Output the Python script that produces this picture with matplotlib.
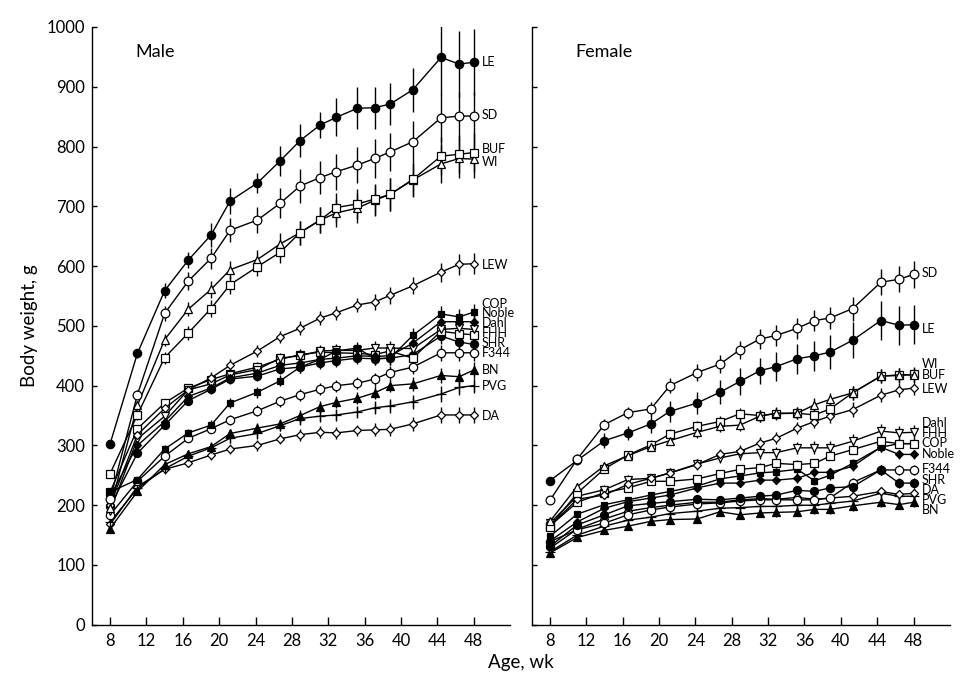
import matplotlib
matplotlib.use("Agg")
import matplotlib.pyplot as plt

plt.rcParams['font.family'] = ['Lato', 'DejaVu Sans']

# ages at which the rats were weighed (wk)
weeks = [8, 11, 14, 16.6, 19.1, 21.2, 24.2, 26.7, 28.9, 31.1, 32.9, 35.2, 37.1, 38.8, 41.3, 44.4, 46.4, 48]
x_ticks = [8, 12, 16, 20, 24, 28, 32, 36, 40, 44, 48]
y_ticks = [0, 100, 200, 300, 400, 500, 600, 700, 800, 900, 1000]

# ---- male body weight (g) ----
m_LE = [303, 454, 559, 610, 652, 709, 739, 776, 810, 836, 849, 864, 865, 871, 895, 949, 938, 941]
m_SD = [210, 385, 521, 575, 613, 660, 677, 705, 734, 748, 758, 769, 780, 791, 808, 848, 851, 851]
m_BUF = [253, 351, 447, 488, 529, 569, 599, 623, 656, 677, 698, 704, 712, 720, 745, 784, 787, 790]
m_WI = [195, 367, 477, 528, 561, 594, 611, 637, 656, 677, 689, 697, 710, 720, 744, 771, 780, 779]
m_LEW = [200, 318, 362, 393, 413, 434, 458, 482, 496, 513, 522, 535, 540, 551, 567, 590, 603, 604]
m_COP = [222, 243, 294, 321, 334, 371, 389, 408, 431, 444, 458, 463, 445, 446, 484, 520, 515, 523]
m_Noble = [215, 300, 340, 382, 396, 413, 421, 434, 438, 444, 446, 450, 449, 450, 471, 507, 507, 507]
m_Dahl = [190, 311, 349, 393, 403, 418, 427, 446, 450, 458, 459, 459, 463, 463, 462, 494, 496, 494]
m_FHH = [222, 328, 371, 396, 410, 420, 431, 444, 452, 456, 455, 454, 452, 458, 446, 491, 487, 485]
m_SHR = [198, 287, 334, 375, 394, 411, 416, 428, 431, 438, 442, 446, 445, 446, 452, 483, 473, 469]
m_F344 = [184, 240, 282, 312, 328, 343, 358, 374, 385, 394, 400, 404, 411, 422, 431, 455, 455, 455]
m_BN = [161, 223, 268, 286, 298, 320, 329, 336, 350, 365, 372, 379, 388, 400, 403, 417, 415, 426]
m_PVG = [172, 228, 261, 282, 296, 312, 320, 333, 345, 349, 351, 356, 363, 366, 373, 386, 397, 400]
m_DA = [168, 231, 260, 271, 284, 294, 300, 311, 318, 322, 321, 325, 326, 327, 336, 351, 351, 351]

# male SD (g)
m_LE_sd = [5, 8, 13, 14, 20, 22, 17, 25, 28, 22, 32, 35, 35, 35, 37, 62, 55, 55]
m_SD_sd = [5, 8, 12, 15, 18, 20, 22, 25, 28, 28, 30, 30, 32, 32, 35, 40, 40, 40]
m_big_sd = [5, 8, 10, 12, 14, 15, 16, 18, 20, 22, 24, 25, 26, 27, 28, 32, 32, 32]
m_mid_sd = [4, 6, 8, 8, 10, 10, 10, 10, 12, 12, 12, 12, 14, 14, 14, 16, 18, 18]
m_small_sd = [3, 5, 6, 7, 8, 8, 9, 9, 10, 10, 10, 10, 11, 11, 12, 13, 13, 13]

# ---- female body weight (g) ----
f_SD = [208, 277, 335, 355, 361, 400, 422, 436, 460, 478, 484, 496, 509, 513, 529, 573, 578, 586]
f_LE = [241, 275, 308, 321, 336, 357, 371, 389, 407, 425, 432, 445, 450, 456, 476, 509, 501, 502]
f_WI = [173, 231, 266, 283, 298, 308, 322, 332, 334, 349, 354, 354, 368, 377, 388, 416, 418, 418]
f_BUF = [164, 220, 261, 284, 301, 319, 332, 340, 353, 350, 353, 354, 351, 361, 388, 416, 417, 419]
f_LEW = [165, 210, 217, 235, 245, 254, 268, 285, 290, 304, 312, 329, 340, 349, 360, 384, 393, 396]
f_Dahl = [170, 215, 226, 243, 245, 254, 269, 279, 286, 288, 288, 296, 296, 296, 307, 324, 321, 322]
f_FHH = [165, 205, 221, 229, 240, 240, 244, 253, 260, 263, 270, 268, 270, 282, 293, 307, 303, 303]
f_COP = [148, 185, 201, 209, 217, 223, 232, 244, 249, 254, 256, 260, 241, 250, 270, 297, 303, 303]
f_Noble = [140, 172, 195, 206, 212, 217, 229, 237, 237, 242, 242, 245, 255, 255, 265, 297, 285, 285]
f_SHR = [131, 167, 184, 199, 203, 206, 210, 209, 212, 215, 217, 225, 223, 229, 231, 259, 237, 237]
f_F344 = [139, 159, 170, 184, 192, 197, 202, 204, 207, 209, 209, 209, 209, 212, 238, 259, 259, 259]
f_DA = [128, 160, 177, 190, 196, 200, 205, 205, 209, 211, 210, 213, 210, 212, 215, 223, 218, 220]
f_PVG = [122, 150, 165, 175, 180, 186, 190, 195, 196, 198, 198, 200, 200, 203, 207, 220, 215, 215]
f_BN = [120, 146, 158, 165, 173, 176, 177, 189, 184, 187, 188, 189, 193, 193, 199, 205, 201, 205]

# female SD (g)
f_SD_sd = [5, 8, 10, 10, 12, 12, 15, 15, 15, 17, 18, 18, 18, 18, 20, 22, 22, 22]
f_LE_sd = [5, 8, 12, 12, 15, 18, 18, 20, 22, 22, 25, 25, 25, 28, 30, 33, 33, 33]
f_mid_sd = [4, 6, 7, 7, 8, 8, 9, 9, 10, 10, 10, 10, 11, 11, 12, 12, 12, 12]
f_small_sd = [3, 4, 5, 5, 5, 6, 6, 6, 6, 7, 7, 7, 7, 7, 8, 8, 8, 8]

# strain labels at the right end of each panel
m_label_names = ['LE', 'SD', 'BUF', 'WI', 'LEW', 'COP', 'Noble', 'Dahl', 'FHH', 'SHR', 'F344', 'BN', 'PVG', 'DA']
m_label_y = [941, 852, 796, 774, 602, 537, 521, 505, 488, 471, 454, 427, 400, 349]
f_label_names = ['SD', 'LE', 'WI', 'BUF', 'LEW', 'Dahl', 'FHH', 'COP', 'Noble', 'F344', 'SHR', 'DA', 'PVG', 'BN']
f_label_y = [588, 495, 436, 417, 394, 338, 321, 304, 286, 261, 243, 226, 209, 192]

# marker for each strain: (marker, filled, size)
styles = {
    'LE': ('o', True, 6), 'SD': ('o', False, 6.3), 'BUF': ('s', False, 5.5),
    'WI': ('^', False, 6), 'LEW': ('D', False, 4), 'COP': ('s', True, 5),
    'Noble': ('D', True, 4), 'Dahl': ('v', False, 6), 'FHH': ('s', False, 5.5),
    'SHR': ('o', True, 5.8), 'F344': ('o', False, 6), 'BN': ('^', True, 5.8),
    'PVG': ('+', True, 7), 'DA': ('D', False, 4),
}

male = [('DA', m_DA, m_small_sd), ('PVG', m_PVG, m_small_sd), ('BN', m_BN, m_small_sd),
        ('F344', m_F344, m_small_sd), ('SHR', m_SHR, m_small_sd), ('FHH', m_FHH, m_small_sd),
        ('Dahl', m_Dahl, m_small_sd), ('Noble', m_Noble, m_small_sd), ('COP', m_COP, m_small_sd),
        ('LEW', m_LEW, m_mid_sd), ('WI', m_WI, m_big_sd), ('BUF', m_BUF, m_big_sd),
        ('SD', m_SD, m_SD_sd), ('LE', m_LE, m_LE_sd)]
female = [('BN', f_BN, f_small_sd), ('PVG', f_PVG, f_small_sd), ('DA', f_DA, f_small_sd),
          ('F344', f_F344, f_small_sd), ('SHR', f_SHR, f_small_sd), ('Noble', f_Noble, f_small_sd),
          ('COP', f_COP, f_small_sd), ('FHH', f_FHH, f_small_sd), ('Dahl', f_Dahl, f_mid_sd),
          ('LEW', f_LEW, f_mid_sd), ('BUF', f_BUF, f_mid_sd), ('WI', f_WI, f_mid_sd),
          ('LE', f_LE, f_LE_sd), ('SD', f_SD, f_SD_sd)]


def draw_panel(ax, series, names, label_y, title, show_yticklabels):
    for name, vals, err in series:
        marker, filled, size = styles[name]
        ax.errorbar(weeks, vals, yerr=err, fmt='none', ecolor='black', elinewidth=1.0,
                    capsize=0, zorder=1)
        ax.plot(weeks, vals, color='black', linewidth=1.0, marker=marker, markersize=size,
                markerfacecolor='black' if filled else 'white', markeredgecolor='black',
                markeredgewidth=0.9, zorder=3)
    for name, y in zip(names, label_y):
        ax.text(48.9, y, name, fontsize=9, va='center', ha='left')
    ax.text(10.8, 958, title, fontsize=13, va='center', ha='left')

    ax.set_xlim(6, 52)
    ax.set_ylim(0, 1000)
    ax.set_xticks(x_ticks)
    ax.set_yticks(y_ticks)
    ax.spines['top'].set_visible(False)
    ax.spines['right'].set_visible(False)
    ax.spines['left'].set_linewidth(1.0)
    ax.spines['bottom'].set_linewidth(1.0)
    ax.tick_params(axis='x', direction='in', length=5.5, width=1.0, labelsize=12, pad=6)
    ax.tick_params(axis='y', direction='in', length=3.8, width=1.0, labelsize=12, pad=5)
    if not show_yticklabels:
        ax.tick_params(axis='y', labelleft=False)


fig = plt.figure(figsize=(9.66, 6.78), dpi=100)
ax_m = fig.add_axes([0.0952, 0.0785, 0.4328, 0.8817])
ax_f = fig.add_axes([0.5504, 0.0785, 0.4330, 0.8817])

draw_panel(ax_m, male, m_label_names, m_label_y, 'Male', True)
draw_panel(ax_f, female, f_label_names, f_label_y, 'Female', False)

ax_m.set_ylabel('Body weight, g', fontsize=13.5, labelpad=6)
fig.text(0.539, 0.023, 'Age, wk', fontsize=13.5, ha='center', va='center')

fig.savefig('out.png', dpi=100)
